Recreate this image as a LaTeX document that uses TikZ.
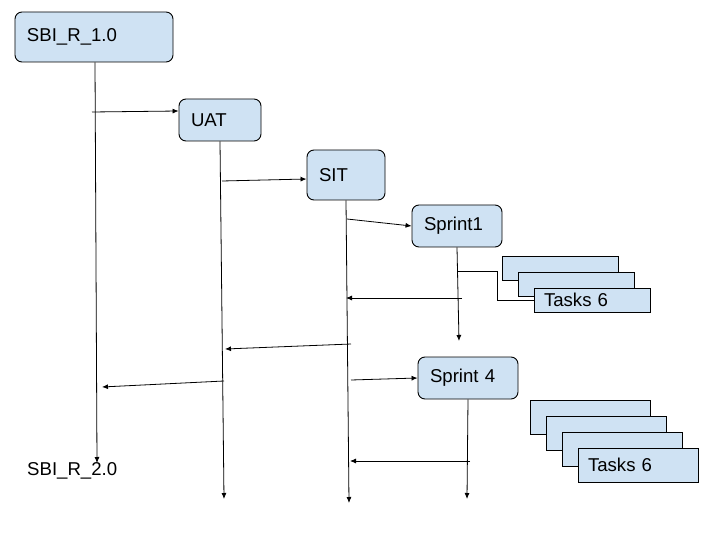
\documentclass[tikz,border=0pt]{standalone}
\usepackage{fontspec}
\setmainfont{Liberation Sans}
\usetikzlibrary{arrows.meta}
\definecolor{boxfill}{HTML}{CFE2F3}
\tikzset{
  lbl/.style={font=\fontsize{18.6bp}{22bp}\selectfont, text=black},
  rbox/.style={lbl, draw=black, fill=boxfill, line width=0.9bp, rounded corners=7bp,
    inner xsep=12bp, inner ysep=0bp, align=left, anchor=center},
  tbox/.style={lbl, draw=black, fill=boxfill, line width=0.9bp,
    inner xsep=10bp, inner ysep=0bp, align=left, anchor=center},
  conn/.style={draw=black, line width=0.8bp},
  arr/.style={conn, -{Latex[length=6bp,width=5bp]}},
}
\begin{document}
\begin{tikzpicture}[x=1bp, y=-1bp]
\useasboundingbox (0,0) rectangle (720,540);

% main boxes
\node[rbox, minimum width=158bp, minimum height=50bp, text width=134bp] (sbi1) at (94,37) {SBI\_R\_1.0};
\node[rbox, minimum width=82bp, minimum height=42bp, text width=58bp] (uat) at (220,120) {UAT};
\node[rbox, minimum width=78bp, minimum height=50bp, text width=54bp] (sit) at (346,175) {SIT};
\node[rbox, minimum width=90bp, minimum height=42bp, text width=66bp] (sp1) at (457,226) {Sprint1};
\node[rbox, minimum width=100bp, minimum height=42bp, text width=76bp] (sp4) at (468,378) {Sprint 4};

% task stack 1
\node[tbox, minimum width=116bp, minimum height=24bp, text width=96bp] (t11) at (560,268) {};
\node[tbox, minimum width=116bp, minimum height=24bp, text width=96bp] (t12) at (576,284) {};
\node[tbox, minimum width=116bp, minimum height=24bp, text width=96bp] (t13) at (592,300) {Tasks 6};

% task stack 2
\node[tbox, minimum width=120bp, minimum height=34bp, text width=100bp] (t21) at (590,417) {};
\node[tbox, minimum width=120bp, minimum height=34bp, text width=100bp] (t22) at (606,433) {};
\node[tbox, minimum width=120bp, minimum height=34bp, text width=100bp] (t23) at (622,449) {};
\node[tbox, minimum width=120bp, minimum height=34bp, text width=100bp] (t24) at (638,465) {Tasks 6};

% end label
\node[lbl, anchor=west, inner sep=0pt] (sbi2) at (27,471) {SBI\_R\_2.0};

% free ends of the lifelines
\coordinate (e1) at (97,463);
\coordinate (e2) at (224,499);
\coordinate (e3) at (349,503);
\coordinate (e4) at (459,341);
\coordinate (e5) at (467,499);

\draw[arr] ([xshift=1bp]sbi1.south) -- (e1);
\draw[arr] (uat.south) -- (e2);
\draw[arr] (sit.south) -- (e3);
\draw[arr] (sp1.south) -- (e4);
\draw[arr] (sp4.south) -- (e5);

% forward arrows
\coordinate (s1) at (92,112);
\coordinate (s2) at (222,181);
\coordinate (s3) at (347,219);
\coordinate (s7) at (351,380);
\draw[arr] (s1) -- ([yshift=9bp]uat.west);
\draw[arr] (s2) -- ([yshift=-4bp]sit.west);
\draw[arr] (s3) -- (sp1.west);
\draw[arr] (s7) -- (sp4.west);

% return arrows
\coordinate (r4a) at (462,298); \coordinate (r4b) at (346,298);
\coordinate (r5a) at (351,344); \coordinate (r5b) at (225,349);
\coordinate (r6a) at (224,381); \coordinate (r6b) at (102,387);
\coordinate (r8a) at (470,461); \coordinate (r8b) at (350,461);
\draw[arr] (r4a) -- (r4b);
\draw[arr] (r5a) -- (r5b);
\draw[arr] (r6a) -- (r6b);
\draw[arr] (r8a) -- (r8b);

% elbow to task stack 1
\coordinate (k1) at (457,271);
\draw[conn] (k1) -- (497,271) -- (497,300) -- (t13.west);
\end{tikzpicture}
\end{document}
